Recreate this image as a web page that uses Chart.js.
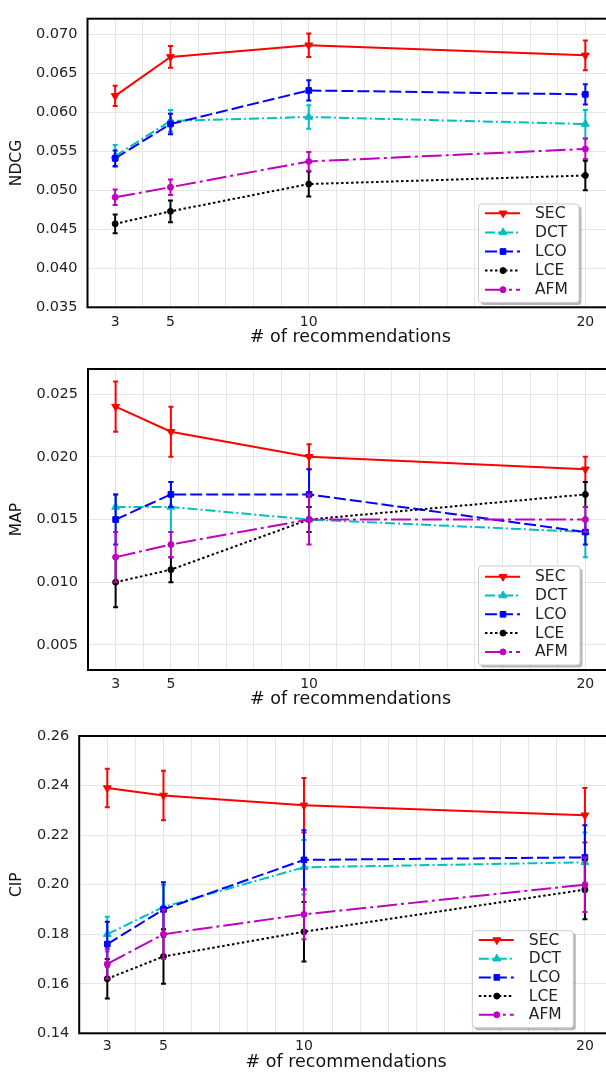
<!DOCTYPE html>
<html>
<head>
<meta charset="utf-8">
<script src="https://cdn.jsdelivr.net/npm/chart.js@4.4.0/dist/chart.umd.min.js"></script>
<style>
  html, body { margin: 0; padding: 0; background: #fff; width: 606px; height: 1072px; overflow: hidden; }
  canvas { position: absolute; left: 0; }
</style>
</head>
<body>
<canvas id="ndcg" width="626" height="350" style="top:0px"></canvas>
<canvas id="map" width="626" height="362" style="top:350px"></canvas>
<canvas id="cip" width="626" height="360" style="top:712px"></canvas>
<script>
// x positions (number of recommendations) and the labelled ticks
var xValues = [3, 5, 10, 20];
var xTickLabels = [3, 5, 10, 20];
var methods = ['SEC', 'DCT', 'LCO', 'LCE', 'AFM'];

// NDCG, rows follow methods order
var ndcgValues = [
  [0.0621, 0.0671, 0.0686, 0.0673],
  [0.0544, 0.0589, 0.0594, 0.0585],
  [0.0541, 0.0585, 0.0628, 0.0623],
  [0.0457, 0.0473, 0.0508, 0.0519],
  [0.0491, 0.0504, 0.0537, 0.0553]
];
var ndcgErrors = [
  [0.0013, 0.0014, 0.0015, 0.0019],
  [0.0014, 0.0014, 0.0015, 0.0018],
  [0.0010, 0.0013, 0.0013, 0.0013],
  [0.0012, 0.0014, 0.0016, 0.0019],
  [0.0010, 0.0010, 0.0012, 0.0013]
];

// MAP
var mapValues = [
  [0.024, 0.022, 0.020, 0.019],
  [0.016, 0.016, 0.015, 0.014],
  [0.015, 0.017, 0.017, 0.014],
  [0.010, 0.011, 0.015, 0.017],
  [0.012, 0.013, 0.015, 0.015]
];
var mapErrors = [
  [0.002, 0.002, 0.001, 0.001],
  [0.001, 0.002, 0.001, 0.002],
  [0.002, 0.001, 0.002, 0.001],
  [0.002, 0.001, 0.001, 0.001],
  [0.002, 0.001, 0.002, 0.001]
];

// CIP
var cipValues = [
  [0.239, 0.236, 0.232, 0.228],
  [0.180, 0.191, 0.207, 0.209],
  [0.176, 0.190, 0.210, 0.211],
  [0.162, 0.171, 0.181, 0.198],
  [0.168, 0.180, 0.188, 0.200]
];
var cipErrors = [
  [0.0078, 0.010, 0.011, 0.011],
  [0.007, 0.009, 0.011, 0.012],
  [0.009, 0.011, 0.012, 0.013],
  [0.008, 0.011, 0.012, 0.012],
  [0.006, 0.010, 0.010, 0.011]
];

// styles
var colors = ['#ff0000', '#00bfbf', '#0000ff', '#000000', '#bf00bf'];
var dashes = [[], [10, 3, 2, 3], [12, 4], [2.5, 2.5], [20, 4, 3, 4]];
var markers = ['triangle', 'triangle', 'rect', 'circle', 'circle'];
var markerRotation = [180, 0, 0, 0, 0];
var markerSize = [4.5, 4.5, 4, 3, 3];

var FONT = '"DejaVu Sans", sans-serif';

// draws vertical error bars with caps before each series line
var errorBars = {
  id: 'errorBars',
  beforeDatasetDraw: function (chart, args) {
    var ds = chart.data.datasets[args.index];
    var meta = args.meta;
    var yScale = chart.scales.y;
    var ctx = chart.ctx;
    ctx.save();
    ctx.strokeStyle = ds.borderColor;
    ctx.lineWidth = 2;
    ds.errors.forEach(function (e, i) {
      var px = meta.data[i].x;
      var v = ds.data[i].y;
      var top = yScale.getPixelForValue(v + e);
      var bot = yScale.getPixelForValue(v - e);
      ctx.beginPath();
      ctx.moveTo(px, top); ctx.lineTo(px, bot);
      ctx.moveTo(px - 2.5, top); ctx.lineTo(px + 2.5, top);
      ctx.moveTo(px - 2.5, bot); ctx.lineTo(px + 2.5, bot);
      ctx.stroke();
    });
    ctx.restore();
  }
};

// black frame around plot area
var frame = {
  id: 'frame',
  beforeDatasetsDraw: function (chart) {
    var a = chart.chartArea, ctx = chart.ctx;
    ctx.save();
    ctx.strokeStyle = '#000';
    ctx.lineWidth = 2;
    ctx.strokeRect(a.left, a.top, a.right - a.left, a.bottom - a.top);
    ctx.restore();
  }
};

function roundRect(ctx, x, y, w, h, r) {
  ctx.beginPath();
  ctx.moveTo(x + r, y);
  ctx.lineTo(x + w - r, y);
  ctx.quadraticCurveTo(x + w, y, x + w, y + r);
  ctx.lineTo(x + w, y + h - r);
  ctx.quadraticCurveTo(x + w, y + h, x + w - r, y + h);
  ctx.lineTo(x + r, y + h);
  ctx.quadraticCurveTo(x, y + h, x, y + h - r);
  ctx.lineTo(x, y + r);
  ctx.quadraticCurveTo(x, y, x + r, y);
  ctx.closePath();
}

// matplotlib-like legend box
var boxLegend = {
  id: 'boxLegend',
  afterDraw: function (chart, args, opts) {
    var ctx = chart.ctx, a = chart.chartArea;
    var w = opts.width, h = opts.height;
    var x0 = a.right - opts.right - w;
    var y0 = a.bottom - opts.bottom - h;
    ctx.save();
    ctx.fillStyle = 'rgba(0,0,0,0.28)';
    roundRect(ctx, x0 + 2.5, y0 + 2.5, w, h, 3);
    ctx.fill();
    ctx.fillStyle = '#ffffff';
    ctx.strokeStyle = '#cccccc';
    ctx.lineWidth = 1;
    roundRect(ctx, x0, y0, w, h, 3);
    ctx.fill();
    ctx.stroke();
    chart.data.datasets.forEach(function (ds, i) {
      var cy = y0 + opts.first + i * opts.step;
      var lx = x0 + 6.5;
      ctx.strokeStyle = ds.borderColor;
      ctx.lineWidth = 2;
      ctx.setLineDash(ds.borderDash);
      ctx.beginPath();
      ctx.moveTo(lx, cy);
      ctx.lineTo(lx + 35, cy);
      ctx.stroke();
      ctx.setLineDash([]);
      ctx.fillStyle = ds.borderColor;
      ctx.lineWidth = 1;
      Chart.helpers.drawPoint(ctx, {
        pointStyle: ds.pointStyle, rotation: ds.pointRotation,
        radius: ds.pointRadius, borderWidth: 1
      }, lx + 18, cy);
      ctx.fillStyle = '#222';
      ctx.font = '15.5px ' + FONT;
      ctx.textBaseline = 'middle';
      ctx.textAlign = 'left';
      ctx.fillText(ds.label, x0 + 56.5, cy + 0.5);
    });
    ctx.restore();
  }
};

function makePanel(id, p) {
  var datasets = methods.map(function (name, k) {
    return {
      label: name,
      data: xValues.map(function (x, i) { return { x: x, y: p.values[k][i] }; }),
      errors: p.errors[k],
      borderColor: colors[k],
      backgroundColor: colors[k],
      borderWidth: 2,
      borderDash: dashes[k],
      pointStyle: markers[k],
      pointRotation: markerRotation[k],
      pointRadius: markerSize[k],
      pointBorderWidth: 1,
      tension: 0,
      order: methods.length - k
    };
  });

  return new Chart(document.getElementById(id), {
    type: 'line',
    data: { datasets: datasets },
    options: {
      responsive: false,
      devicePixelRatio: 1,
      animation: false,
      layout: { padding: { top: p.padTop, right: 13, bottom: 0, left: 0 } },
      plugins: {
        legend: { display: false },
        tooltip: { enabled: false },
        boxLegend: p.legend
      },
      scales: {
        x: {
          type: 'linear',
          min: 2,
          max: 21,
          grid: { color: '#e6e6e6', lineWidth: 1, drawTicks: false },
          border: { display: false },
          ticks: {
            stepSize: 1,
            autoSkip: false,
            maxRotation: 0,
            includeBounds: false,
            padding: p.xTickPad,
            color: '#222',
            font: { family: FONT, size: 14 },
            callback: function (v) { return xTickLabels.indexOf(v) >= 0 ? String(v) : ''; }
          },
          title: {
            display: true,
            text: '# of recommendations',
            color: '#111',
            font: { family: FONT, size: 17.5, lineHeight: 1 },
            padding: { top: 0, bottom: p.titlePad }
          },
          afterFit: function (s) { s.height = p.xAxisHeight; }
        },
        y: {
          min: p.yMin,
          max: p.yMax,
          grid: { color: '#e6e6e6', lineWidth: 1, drawTicks: false },
          border: { display: false },
          ticks: {
            stepSize: p.yStep,
            includeBounds: false,
            padding: 10,
            color: '#222',
            font: { family: FONT, size: 14.5 },
            callback: function (v) { return v.toFixed(p.decimals); }
          },
          title: {
            display: true,
            text: p.yTitle,
            color: '#111',
            font: { family: FONT, size: 15.5, lineHeight: 1 },
            padding: { top: 9.5, bottom: 0 }
          },
          afterFit: function (s) { s.width = p.yAxisWidth; }
        }
      }
    },
    plugins: [frame, errorBars, boxLegend]
  });
}

makePanel('ndcg', {
  values: ndcgValues, errors: ndcgErrors,
  yTitle: 'NDCG', yMin: 0.035, yMax: 0.072, yStep: 0.005, decimals: 3,
  padTop: 6, yAxisWidth: 87.5, xAxisHeight: 42.7, xTickPad: 6.3, titlePad: 3.5,
  legend: { width: 100.5, height: 98.5, right: 34, bottom: 4.8, first: 9.3, step: 19.1 }
});

makePanel('map', {
  values: mapValues, errors: mapErrors,
  yTitle: 'MAP', yMin: 0.003, yMax: 0.027, yStep: 0.005, decimals: 3,
  padTop: 19, yAxisWidth: 88, xAxisHeight: 42, xTickPad: 5.6, titlePad: 3.5,
  legend: { width: 101.5, height: 99, right: 33, bottom: 5, first: 10.7, step: 18.8 }
});

makePanel('cip', {
  values: cipValues, errors: cipErrors,
  yTitle: 'CIP', yMin: 0.14, yMax: 0.26, yStep: 0.02, decimals: 2,
  padTop: 24, yAxisWidth: 79.2, xAxisHeight: 38.7, xTickPad: 5, titlePad: 0.5,
  legend: { width: 101, height: 97, right: 39.7, bottom: 5.6, first: 9.3, step: 18.7 }
});
</script>
</body>
</html>
